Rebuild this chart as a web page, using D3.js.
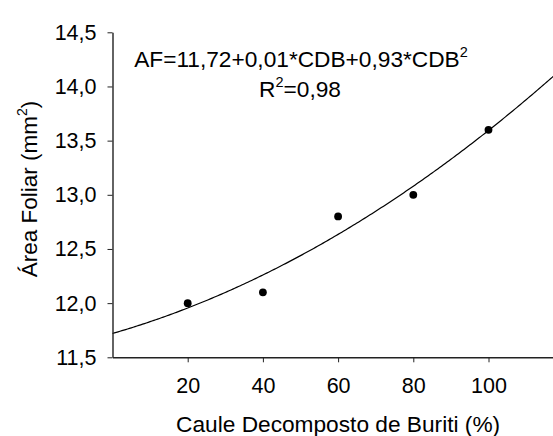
<!DOCTYPE html>
<html>
<head>
<meta charset="utf-8">
<script src="https://cdn.jsdelivr.net/npm/d3@7"></script>
<style>
  body { margin: 0; background: #fff; }
  svg { display: block; font-family: "Liberation Sans", Arial, sans-serif; }
  text { fill: #000; }
</style>
</head>
<body>
<script>
// data
const cdb = [20, 40, 60, 80, 100];
const areaFoliar = [12.0, 12.1, 12.8, 13.0, 13.6];
const xTicks = [20, 40, 60, 80, 100];
const yTicks = [11.5, 12.0, 12.5, 13.0, 13.5, 14.0, 14.5];
// fitted curve coefficients (as drawn)
const coef = [11.72, 0.01, 0.0000874];

// constants
const width = 553;
const height = 436;
const fmt = d => d3.format(".1f")(d).replace(".", ",");

const x = d3.scaleLinear().domain([0, 120]).range([112.5, 563.7]);
const y = d3.scaleLinear().domain([11.5, 14.5]).range([357.3, 32.3]);

const svg = d3.select("body").append("svg")
    .attr("width", width)
    .attr("height", height);

// curve
const curve = d3.range(0, 120.5, 0.5).map(v => [v, coef[0] + coef[1] * v + coef[2] * v * v]);
svg.append("path")
    .datum(curve)
    .attr("fill", "none")
    .attr("stroke", "#000")
    .attr("stroke-width", 1.2)
    .attr("d", d3.line().x(d => x(d[0])).y(d => y(d[1])));

// points
svg.selectAll(".dot")
    .data(cdb)
    .join("circle")
    .attr("class", "dot")
    .attr("cx", d => x(d))
    .attr("cy", (d, i) => y(areaFoliar[i]))
    .attr("r", 3.9)
    .attr("fill", "#000");

// axes
const xAxis = svg.append("g")
    .attr("transform", `translate(0,${y(11.5)})`)
    .call(d3.axisBottom(x).tickValues(xTicks).tickSize(5).tickPadding(15).tickSizeOuter(0));
const yAxis = svg.append("g")
    .attr("transform", `translate(${x(0)},0)`)
    .call(d3.axisLeft(y).tickValues(yTicks).tickFormat(fmt).tickSize(5).tickPadding(11).tickSizeOuter(0));

[xAxis, yAxis].forEach(g => {
  g.select(".domain").attr("stroke", "#222").attr("stroke-width", 1.4);
  g.selectAll(".tick line").attr("stroke", "#222").attr("stroke-width", 1);
  g.selectAll("text").attr("font-family", null).style("font-size", "21.5px").attr("fill", "#000");
});

// axis titles
svg.append("text")
    .attr("x", x(60))
    .attr("y", 431.5)
    .attr("text-anchor", "middle")
    .style("font-size", "22.7px")
    .text("Caule Decomposto de Buriti (%)");

const yTitle = svg.append("text")
    .attr("transform", `translate(36.5,${(95 + 283) / 2}) rotate(-90)`)
    .attr("text-anchor", "middle")
    .style("font-size", "22.5px");
yTitle.append("tspan").text("Área Foliar (mm");
yTitle.append("tspan").attr("dy", -10).style("font-size", "14px").text("2");
yTitle.append("tspan").attr("dy", 10).text(")");

// equation
const eq = svg.append("text")
    .attr("x", 301)
    .attr("y", 66.7)
    .attr("text-anchor", "middle")
    .style("font-size", "22.7px");
eq.append("tspan").text("AF=11,72+0,01*CDB+0,93*CDB");
eq.append("tspan").attr("dy", -10).style("font-size", "14.5px").text("2");

const r2 = svg.append("text")
    .attr("x", 300)
    .attr("y", 96.7)
    .attr("text-anchor", "middle")
    .style("font-size", "22.7px");
r2.append("tspan").text("R");
r2.append("tspan").attr("dy", -10).style("font-size", "14.5px").text("2");
r2.append("tspan").attr("dy", 10).text("=0,98");
</script>
</body>
</html>
